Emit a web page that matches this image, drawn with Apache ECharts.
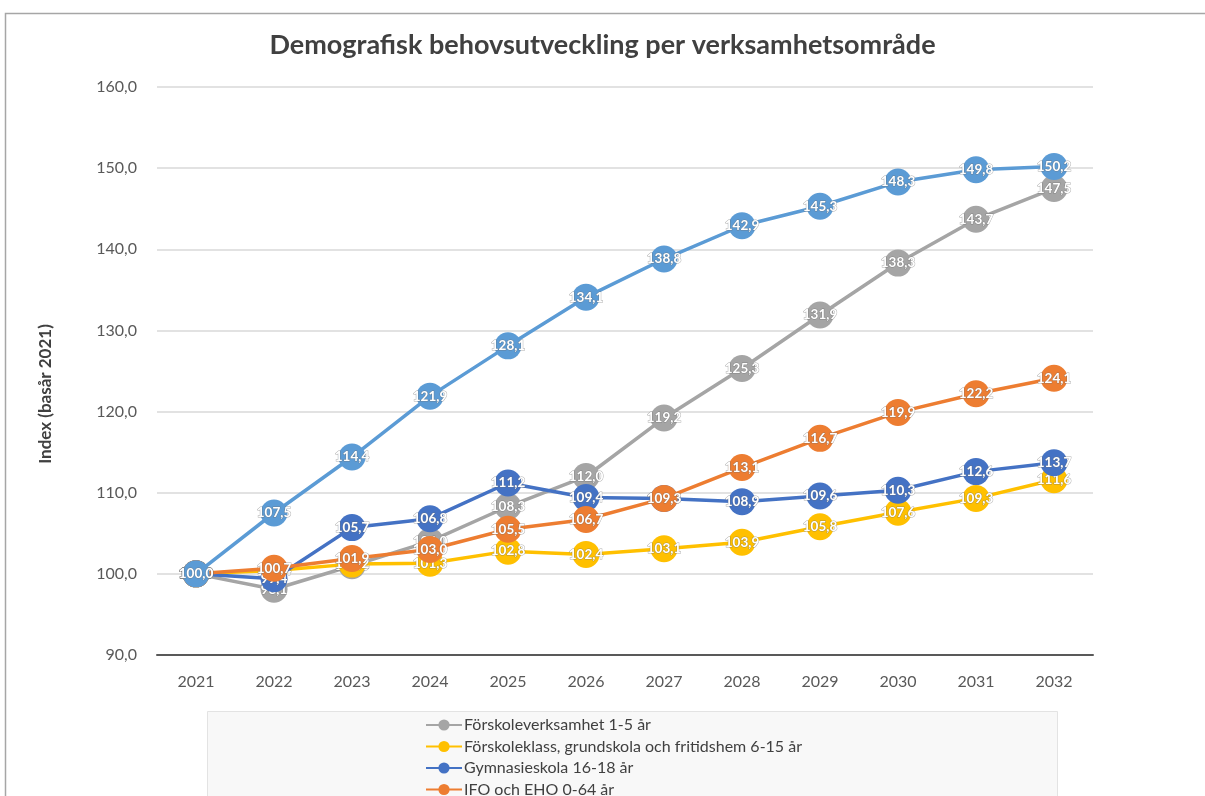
<!DOCTYPE html>
<html>
<head>
<meta charset="utf-8">
<script src="https://cdn.jsdelivr.net/npm/echarts@6/dist/echarts.min.js"></script>
<style>
  html, body { margin: 0; padding: 0; background: #fff; }
  #chart { width: 1205px; height: 796px; }
</style>
</head>
<body>
<div id="chart"></div>
<script>
const years = ['2021', '2022', '2023', '2024', '2025', '2026', '2027', '2028', '2029', '2030', '2031', '2032'];
const yTicks = { min: 90, max: 160, step: 10 };

const seriesNames = [
  'Förskoleverksamhet 1-5 år',
  'Förskoleklass, grundskola och fritidshem 6-15 år',
  'Gymnasieskola 16-18 år',
  'IFO och EHO 0-64 år',
  'Äldreomsorg 65+ år'
];
const seriesColors = ['#A5A5A5', '#FFC000', '#4472C4', '#ED7D31', '#5B9BD5'];

const forskola = [100.0, 98.1, 101.0, 104.0, 108.3, 112.0, 119.2, 125.3, 131.9, 138.3, 143.7, 147.5];
const grundskola = [100.0, 100.4, 101.2, 101.3, 102.8, 102.4, 103.1, 103.9, 105.8, 107.6, 109.3, 111.6];
const gymnasie = [100.0, 99.4, 105.7, 106.8, 111.2, 109.4, 109.3, 108.9, 109.6, 110.3, 112.6, 113.7];
const ifo = [100.0, 100.7, 101.9, 103.0, 105.5, 106.7, 109.3, 113.1, 116.7, 119.9, 122.2, 124.1];
const aldre = [100.0, 107.5, 114.4, 121.9, 128.1, 134.1, 138.8, 142.9, 145.3, 148.3, 149.8, 150.2];

const allData = [forskola, grundskola, gymnasie, ifo, aldre];

function fmt(v) {
  return Number(v).toFixed(1).replace('.', ',');
}

let chart = echarts.init(document.getElementById('chart'));

let option = {
  animation: false,
  backgroundColor: '#fff',
  title: {
    text: 'Demografisk behovsutveckling per verksamhetsområde',
    left: 'center',
    top: 27,
    textStyle: {
      fontFamily: 'Lato',
      fontSize: 27,
      fontWeight: 'bold',
      color: '#404040'
    }
  },
  graphic: [
    {
      type: 'rect',
      z: -10,
      shape: { x: 5.5, y: 13.5, width: 1240, height: 820 },
      style: { fill: 'none', stroke: '#a6a6a6', lineWidth: 1.5 }
    },
    {
      type: 'rect',
      z: -5,
      shape: { x: 207.5, y: 711.5, width: 850, height: 120 },
      style: { fill: '#f8f8f8', stroke: '#e3e3e3', lineWidth: 1 }
    },
    {
      type: 'text',
      x: 46,
      y: 394,
      rotation: Math.PI / 2,
      style: {
        text: 'Index (basår 2021)',
        font: 'bold 17px Lato',
        fill: '#404040',
        align: 'center',
        verticalAlign: 'middle'
      }
    }
  ],
  legend: {
    orient: 'vertical',
    left: 420,
    top: 712,
    height: 300,
    itemGap: 5.5,
    itemWidth: 36,
    itemHeight: 14,
    textStyle: {
      fontFamily: 'Lato',
      fontSize: 16,
      color: '#404040',
      padding: [0, 0, 0, -3]
    },
    data: seriesNames
  },
  grid: {
    left: 157,
    right: 112,
    top: 87,
    bottom: 141
  },
  xAxis: {
    type: 'category',
    data: years,
    boundaryGap: true,
    axisTick: { show: false },
    axisLine: { lineStyle: { color: '#595959', width: 2 } },
    axisLabel: {
      margin: 19,
      fontFamily: 'Lato',
      fontSize: 16,
      color: '#595959'
    }
  },
  yAxis: {
    type: 'value',
    min: yTicks.min,
    max: yTicks.max,
    interval: yTicks.step,
    axisLine: { show: false },
    axisTick: { show: false },
    axisLabel: {
      margin: 20,
      fontFamily: 'Lato',
      fontSize: 16,
      color: '#595959',
      formatter: fmt
    },
    splitLine: { lineStyle: { color: '#d9d9d9', width: 1.5 } }
  },
  series: seriesNames.map((name, i) => ({
    name: name,
    type: 'line',
    z: 2 + i,
    data: allData[i],
    symbol: 'circle',
    symbolSize: 27,
    color: seriesColors[i],
    lineStyle: { width: 3.5, color: seriesColors[i] },
    itemStyle: { color: seriesColors[i] },
    label: {
      show: true,
      position: 'inside',
      color: '#fff',
      fontFamily: 'Lato',
      fontWeight: 'bold',
      fontSize: 13.5,
      textBorderColor: 'rgba(110,110,110,0.55)',
      textBorderWidth: 1,
      formatter: (p) => fmt(p.value)
    }
  }))
};

chart.setOption(option);
</script>
</body>
</html>
